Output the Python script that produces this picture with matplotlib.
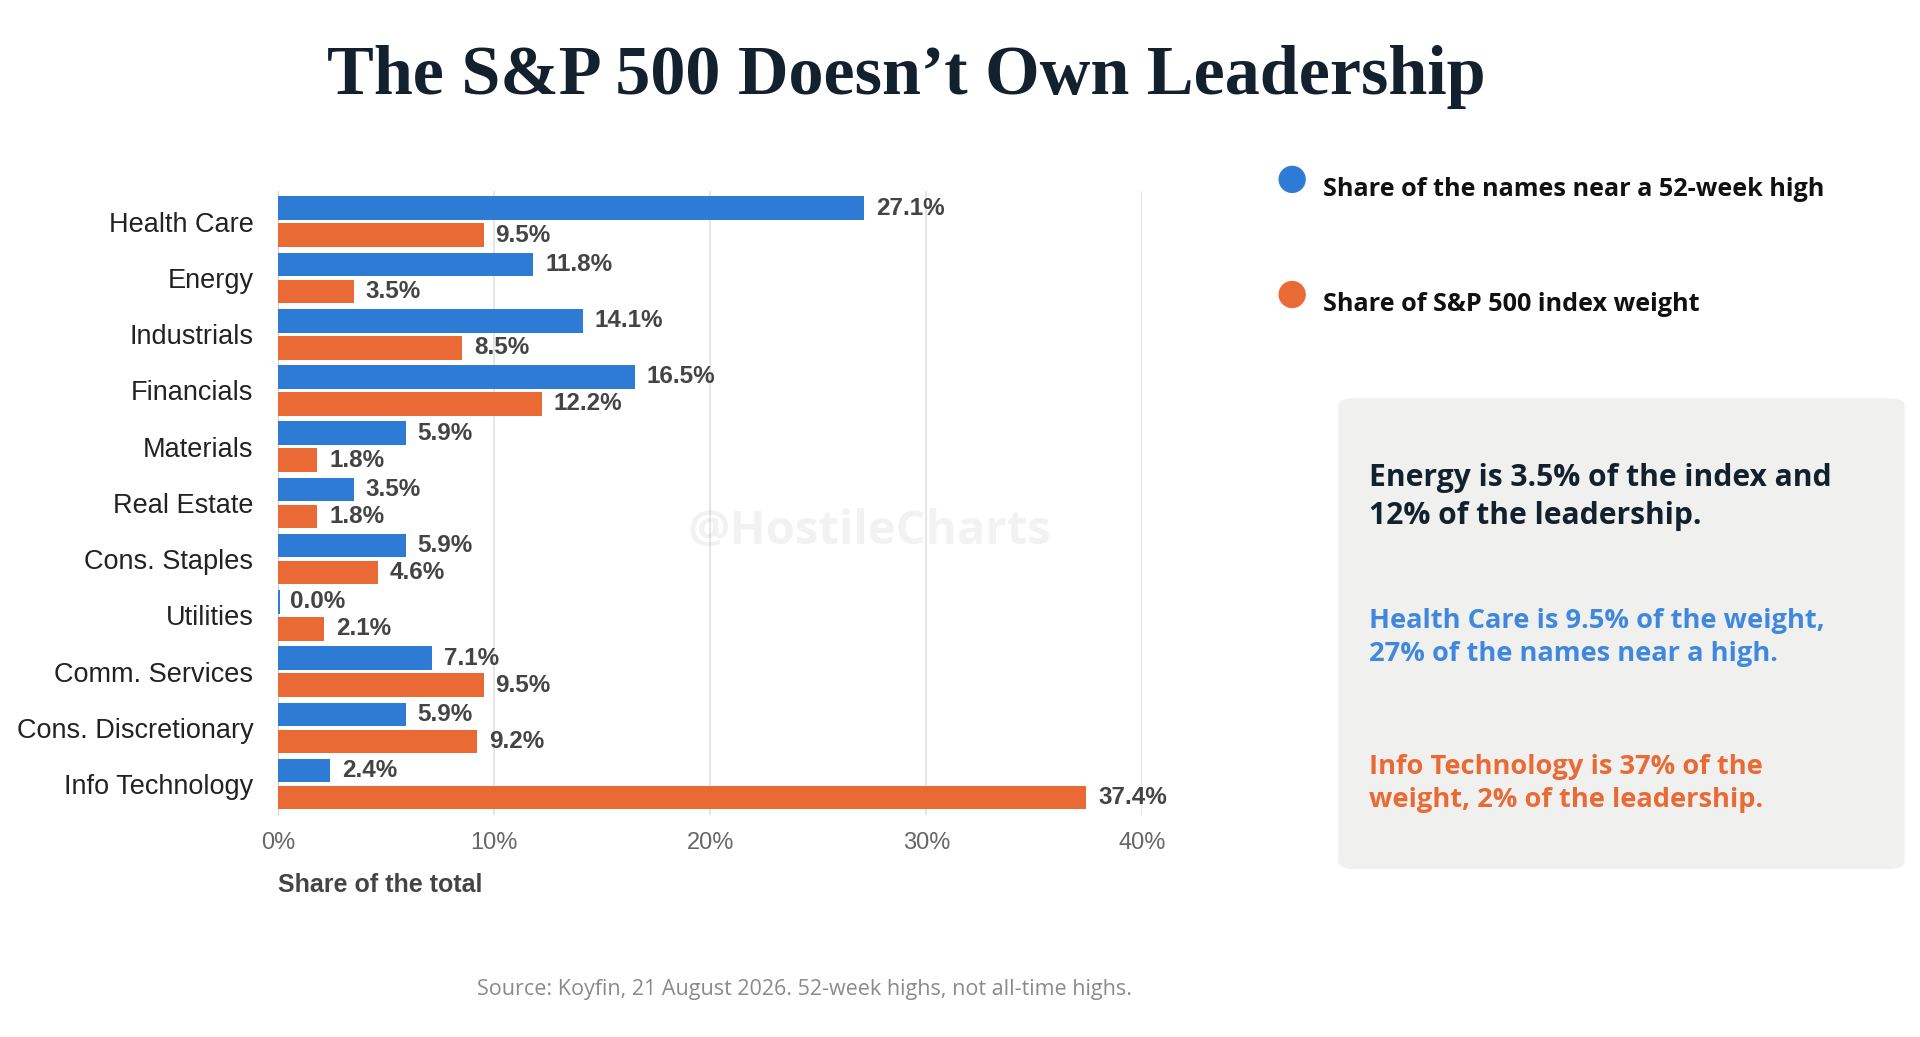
import matplotlib
matplotlib.use("Agg")
import matplotlib.pyplot as plt
from matplotlib.patches import FancyBboxPatch, Ellipse
import numpy as np

categories = ["Health Care", "Energy", "Industrials", "Financials", "Materials", "Real Estate",
              "Cons. Staples", "Utilities", "Comm. Services", "Cons. Discretionary", "Info Technology"]
near_high = [27.1, 11.8, 14.1, 16.5, 5.9, 3.5, 5.9, 0.0, 7.1, 5.9, 2.4]
index_weight = [9.5, 3.5, 8.5, 12.2, 1.8, 1.8, 4.6, 2.1, 9.5, 9.2, 37.4]
xticks = [0, 10, 20, 30, 40]

BLUE = "#2e7bd6"
ORANGE = "#e96a35"
SANS = "Liberation Sans"

fig = plt.figure(figsize=(19.2, 10.37), dpi=100)
ax = fig.add_axes([0.145, 0.214, 0.45, 0.602])
y = np.arange(len(categories))
h = 0.42
off = 0.24
ax.barh(y - off, near_high, height=h, color=BLUE, zorder=3)
ax.barh(y + off, index_weight, height=h, color=ORANGE, zorder=3)
ax.barh(y[7] - off, 0.08, height=h, color=BLUE, zorder=3)
for i in range(len(categories)):
    ax.text(near_high[i] + 0.55, y[i] - off, f"{near_high[i]:.1f}%", va="center", ha="left",
            fontsize=17.5, fontweight="bold", color="#444444", family=SANS, zorder=4)
    ax.text(index_weight[i] + 0.55, y[i] + off, f"{index_weight[i]:.1f}%", va="center", ha="left",
            fontsize=17.5, fontweight="bold", color="#444444", family=SANS, zorder=4)
ax.set_ylim(len(categories) - 0.45, -0.55)
ax.set_xlim(0, 40)
ax.set_yticks(y)
ax.set_yticklabels(categories, fontsize=19.5, color="#222222", family=SANS)
ax.set_xticks(xticks)
ax.set_xticklabels([f"{t}%" for t in xticks], fontsize=17, color="#666666", family=SANS)
ax.tick_params(length=0, pad=18)
ax.tick_params(axis="x", pad=12)
for s in ax.spines.values():
    s.set_visible(False)
ax.grid(axis="x", color="#e0e0e0", lw=1.2, zorder=0)
ax.axvline(0, color="#cccccc", lw=1.2, zorder=2)
ax.set_xlabel("Share of the total", fontsize=18, fontweight="bold", color="#444444",
              family=SANS, loc="left", labelpad=14)

fig.text(0.472, 0.926, "The S\u0026P 500 Doesn\u2019t Own Leadership", ha="center", va="center",
         fontsize=50.5, fontweight="bold", family="Liberation Serif", color="#13202e")

fig.text(0.453, 0.487, "@HostileCharts", ha="center", va="center", fontsize=34, fontweight="bold",
         color="#000000", alpha=0.05, family="Open Sans")

for yy, col, lab in [(0.827, BLUE, "Share of the names near a 52-week high"),
                     (0.716, ORANGE, "Share of S\u0026P 500 index weight")]:
    fig.patches.append(Ellipse((0.673, yy), 0.0135, 0.025, transform=fig.transFigure,
                               color=col, figure=fig))
    fig.text(0.689, yy - 0.01, lab, fontsize=18.2, fontweight="bold", color="#111111",
             family="Open Sans", va="center")

box = FancyBboxPatch((0.697, 0.162), 0.295, 0.454, boxstyle="round,pad=0,rounding_size=0.008",
                     transform=fig.transFigure, facecolor="#f0f0ef", edgecolor="none", figure=fig)
fig.patches.append(box)
fig.text(0.713, 0.521, "Energy is 3.5% of the index and\n12% of the leadership.", fontsize=21.6,
         fontweight="bold", color="#13202e", family="Open Sans", va="center", linespacing=1.35)
fig.text(0.713, 0.385, "Health Care is 9.5% of the weight,\n27% of the names near a high.", fontsize=19.6,
         fontweight="bold", color="#3f88dd", family="Open Sans", va="center", linespacing=1.35)
fig.text(0.713, 0.244, "Info Technology is 37% of the\nweight, 2% of the leadership.", fontsize=19.6,
         fontweight="bold", color="#e96a35", family="Open Sans", va="center", linespacing=1.35)

fig.text(0.419, 0.046, "Source: Koyfin, 21 August 2026. 52-week highs, not all-time highs.",
         ha="center", va="center", fontsize=15.5, color="#8a8a8a", family="Open Sans")

fig.savefig("out.png", dpi=100, facecolor="white")
